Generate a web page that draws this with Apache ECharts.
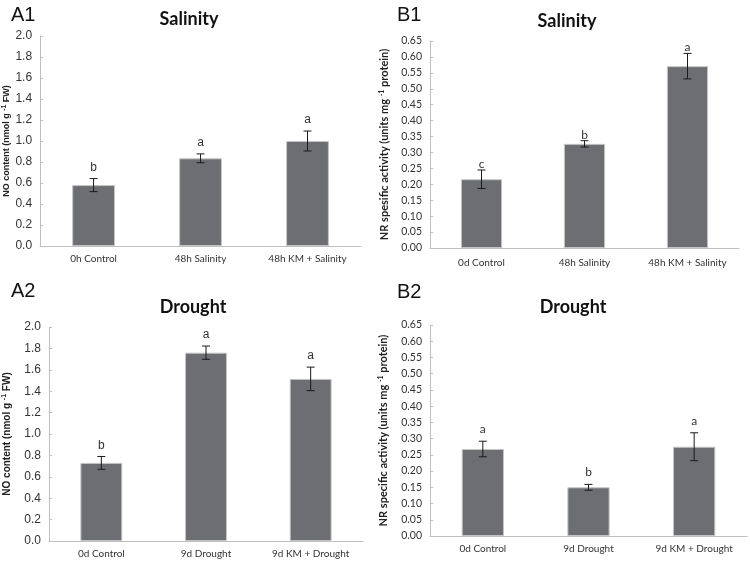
<!DOCTYPE html>
<html>
<head>
<meta charset="utf-8">
<script src="https://cdn.jsdelivr.net/npm/echarts@6/dist/echarts.min.js"></script>
<style>
  html, body { margin: 0; padding: 0; background: #fff; }
  #main { width: 750px; height: 562px; }
</style>
</head>
<body>
<div id="main"></div>
<script>
// A1 - salinity, NO content
const catsA1 = ['0h Control', '48h Salinity', '48h KM + Salinity']
const meanA1 = [0.58, 0.835, 1.0]
const sdA1 = [0.062, 0.042, 0.095]
const letA1 = ['b', 'a', 'a']

// B1 - salinity, NR activity
const catsB1 = ['0d Control', '48h Salinity', '48h KM + Salinity']
const meanB1 = [0.216, 0.327, 0.571]
const sdB1 = [0.029, 0.01, 0.04]
const letB1 = ['c', 'b', 'a']

// A2 - drought, NO content
const catsA2 = ['0d Control', '9d Drought', '9d KM + Drought']
const meanA2 = [0.73, 1.76, 1.515]
const sdA2 = [0.06, 0.062, 0.11]
const letA2 = ['b', 'a', 'a']

// B2 - drought, NR activity
const catsB2 = ['0d Control', '9d Drought', '9d KM + Drought']
const meanB2 = [0.268, 0.15, 0.275]
const sdB2 = [0.024, 0.009, 0.043]
const letB2 = ['a', 'b', 'a']

const axisGray = '#bfbfbf'
const textColor = '#333'

const panels = [
  { cats: catsA1, mean: meanA1, sd: sdA1, letters: letA1, max: 2.0, step: 0.2, dec: 1,
    grid: { left: 40, top: 36, right: 389, bottom: 316 },
    yName: 'NO content (nmol g', gap: 23, nameFont: 'Liberation Sans', nameSize: 9,
    tickFont: 'Liberation Sans', tickSize: 12, off: 11, labelMargin: 8 },
  { cats: catsB1, mean: meanB1, sd: sdB1, letters: letB1, max: 0.65, step: 0.05, dec: 2,
    grid: { left: 430, top: 41, right: 11, bottom: 314 },
    yName: 'NR spesific activity (units mg', gap: 40, nameFont: 'Lato', nameSize: 11,
    tickFont: 'Lato', tickSize: 10.5, off: 6, labelMargin: 10 },
  { cats: catsA2, mean: meanA2, sd: sdA2, letters: letA2, max: 2.0, step: 0.2, dec: 1,
    grid: { left: 49, top: 327, right: 387, bottom: 21 },
    yName: 'NO content (nmol g', gap: 36, nameFont: 'Liberation Sans', nameSize: 10,
    tickFont: 'Liberation Sans', tickSize: 12, off: 11, labelMargin: 8 },
  { cats: catsB2, mean: meanB2, sd: sdB2, letters: letB2, max: 0.65, step: 0.05, dec: 2,
    grid: { left: 430, top: 325, right: 3, bottom: 26 },
    yName: 'NR specific activity (units mg', gap: 41, nameFont: 'Lato', nameSize: 11,
    tickFont: 'Lato', tickSize: 10.5, off: 12, labelMargin: 8 }
]

const nameTail = i => (i % 2 === 0 ? ' FW)' : ' protein)')

const grids = [], xAxes = [], yAxes = [], series = []
panels.forEach((p, i) => {
  grids.push(p.grid)
  xAxes.push({
    type: 'category', gridIndex: i, data: p.cats,
    axisLine: { lineStyle: { color: axisGray, width: 1 } },
    axisTick: { show: false },
    axisLabel: { interval: 0, color: textColor, fontFamily: 'Lato', fontSize: 10, margin: p.labelMargin }
  })
  yAxes.push({
    type: 'value', gridIndex: i, min: 0, max: p.max, interval: p.step,
    name: '{n|' + p.yName + ' }{s|-1}{n|' + nameTail(i) + '}',
    nameLocation: 'middle', nameGap: p.gap, nameRotate: 90,
    nameTextStyle: {
      rich: {
        n: { fontFamily: p.nameFont, fontWeight: 'bold', fontSize: p.nameSize, color: '#222' },
        s: { fontFamily: p.nameFont, fontWeight: 'bold', fontSize: 7, color: '#222', verticalAlign: 'top', padding: [0, 0, 5, 0] }
      }
    },
    splitLine: { show: false },
    axisLine: { show: true, lineStyle: { color: axisGray, width: 1 } },
    axisTick: { show: true, inside: true, length: 3, lineStyle: { color: axisGray } },
    axisLabel: { color: textColor, fontFamily: p.tickFont, fontSize: p.tickSize, margin: 8,
      formatter: v => v.toFixed(p.dec) }
  })
  series.push({
    type: 'bar', xAxisIndex: i, yAxisIndex: i, data: p.mean, barWidth: '40%',
    itemStyle: { color: '#6d6e71', borderColor: '#c4c4c4', borderWidth: 1 },
    silent: true
  })
  series.push({
    type: 'custom', xAxisIndex: i, yAxisIndex: i, z: 10, silent: true,
    data: p.mean.map((m, k) => [k, m - p.sd[k], m + p.sd[k]]),
    renderItem: (params, api) => {
      const lo = api.coord([api.value(0), api.value(1)])
      const hi = api.coord([api.value(0), api.value(2)])
      const w = 4
      const st = { stroke: '#1a1a1a', lineWidth: 1 }
      return {
        type: 'group',
        children: [
          { type: 'line', shape: { x1: hi[0], y1: hi[1], x2: lo[0], y2: lo[1] }, style: st },
          { type: 'line', shape: { x1: hi[0] - w, y1: hi[1], x2: hi[0] + w, y2: hi[1] }, style: st },
          { type: 'line', shape: { x1: lo[0] - w, y1: lo[1], x2: lo[0] + w, y2: lo[1] }, style: st },
          { type: 'text', x: hi[0], y: hi[1] - p.off,
            style: { text: p.letters[params.dataIndex], fill: textColor, fontSize: 12,
              fontFamily: p.tickFont, align: 'center', verticalAlign: 'middle' } }
        ]
      }
    }
  })
})

const titleStyle = { fontFamily: 'Lato', fontWeight: 'bold', fontSize: 18, color: '#111' }
const tagStyle = { fontFamily: 'Liberation Sans', fontWeight: 'normal', fontSize: 20, color: '#111' }

const myChart = echarts.init(document.getElementById('main'), null, { renderer: 'canvas' })
myChart.setOption({
  animation: false,
  backgroundColor: '#fff',
  title: [
    { text: 'Salinity', left: 184, top: 5, textAlign: 'center', textStyle: titleStyle },
    { text: 'Salinity', left: 562, top: 7, textAlign: 'center', textStyle: titleStyle },
    { text: 'Drought', left: 188, top: 293, textAlign: 'center', textStyle: titleStyle },
    { text: 'Drought', left: 568, top: 293, textAlign: 'center', textStyle: titleStyle },
    { text: 'A1', left: 6, top: 0, textStyle: tagStyle },
    { text: 'B1', left: 392, top: 0, textStyle: tagStyle },
    { text: 'A2', left: 6, top: 276, textStyle: tagStyle },
    { text: 'B2', left: 392, top: 277, textStyle: tagStyle }
  ],
  grid: grids,
  xAxis: xAxes,
  yAxis: yAxes,
  series: series
})
</script>
</body>
</html>
